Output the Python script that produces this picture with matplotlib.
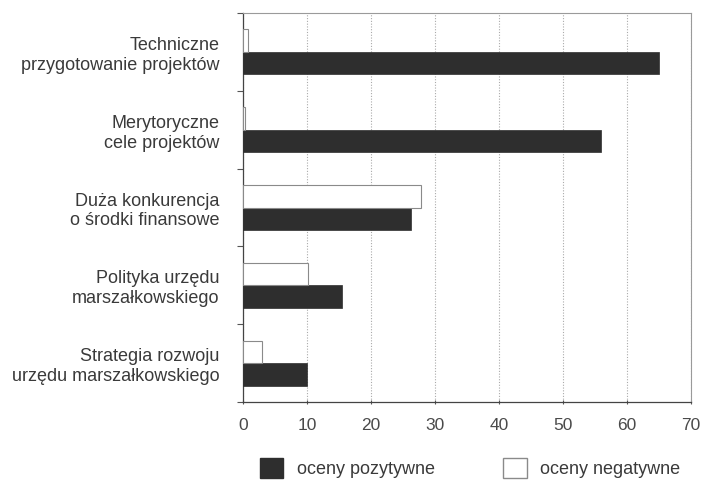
import numpy as np
import matplotlib.pyplot as plt
from matplotlib.patches import Patch

# dane
kategorie = [
    "Techniczne\nprzygotowanie projektów",
    "Merytoryczne\ncele projektów",
    "Duża konkurencja\no środki finansowe",
    "Polityka urzędu\nmarszałkowskiego",
    "Strategia rozwoju\nurzędu marszałkowskiego",
]
pozytywne = [65, 56, 26.3, 15.5, 10]
negatywne = [0.7, 0.3, 27.8, 10.2, 3]
x_ticks = [0, 10, 20, 30, 40, 50, 60, 70]

plt.rcParams['font.family'] = ['Liberation Sans', 'DejaVu Sans']

fig = plt.figure(figsize=(7.05, 4.82), dpi=100)
ax = fig.add_axes([0.345, 0.166, 0.635, 0.807])

y = np.arange(len(kategorie))
h = 0.29
ax.barh(y + 0.145, pozytywne, height=h, color='#2e2e2e', edgecolor='#2e2e2e',
        linewidth=0.5, zorder=3)
ax.barh(y - 0.145, negatywne, height=h, color='white', edgecolor='#8a8a8a',
        linewidth=0.8, zorder=3)

ax.set_xlim(0, 70)
ax.set_ylim(len(kategorie) - 0.5, -0.5)
ax.set_xticks(x_ticks)
ax.set_xticklabels([str(t) for t in x_ticks], fontsize=12.5, color='#4a4a4a')

# etykiety kategorii na minor tickach, kreski na granicach
ax.set_yticks(np.arange(len(kategorie) + 1) - 0.5)
ax.set_yticklabels([])
ax.set_yticks(y, minor=True)
ax.set_yticklabels(kategorie, minor=True, fontsize=13, color='#3a3a3a',
                   linespacing=1.22)
ax.tick_params(axis='y', which='major', length=4, color='#555555', width=0.8)
ax.tick_params(axis='y', which='minor', length=0, pad=17)
ax.tick_params(axis='x', length=3, direction='inout', color='#555555', pad=10)

ax.grid(axis='x', color='#aaaaaa', linestyle=(0, (1, 1.5)), linewidth=0.8, zorder=0)
for s in ['top', 'right']:
    ax.spines[s].set_color('#9a9a9a')
    ax.spines[s].set_linewidth(0.8)
for s in ['left', 'bottom']:
    ax.spines[s].set_color('#444444')
    ax.spines[s].set_linewidth(0.9)

uchwyty = [Patch(facecolor='#2e2e2e', edgecolor='#2e2e2e', label='oceny pozytywne'),
           Patch(facecolor='white', edgecolor='#8a8a8a', label='oceny negatywne')]
fig.legend(handles=uchwyty, loc='center', bbox_to_anchor=(0.667, 1 - 468 / 482),
           ncol=2, frameon=False, fontsize=13, handlelength=1.3, handleheight=1.4,
           handletextpad=0.75, columnspacing=3.8, labelcolor='#3a3a3a')

fig.savefig('out.png', dpi=100)
